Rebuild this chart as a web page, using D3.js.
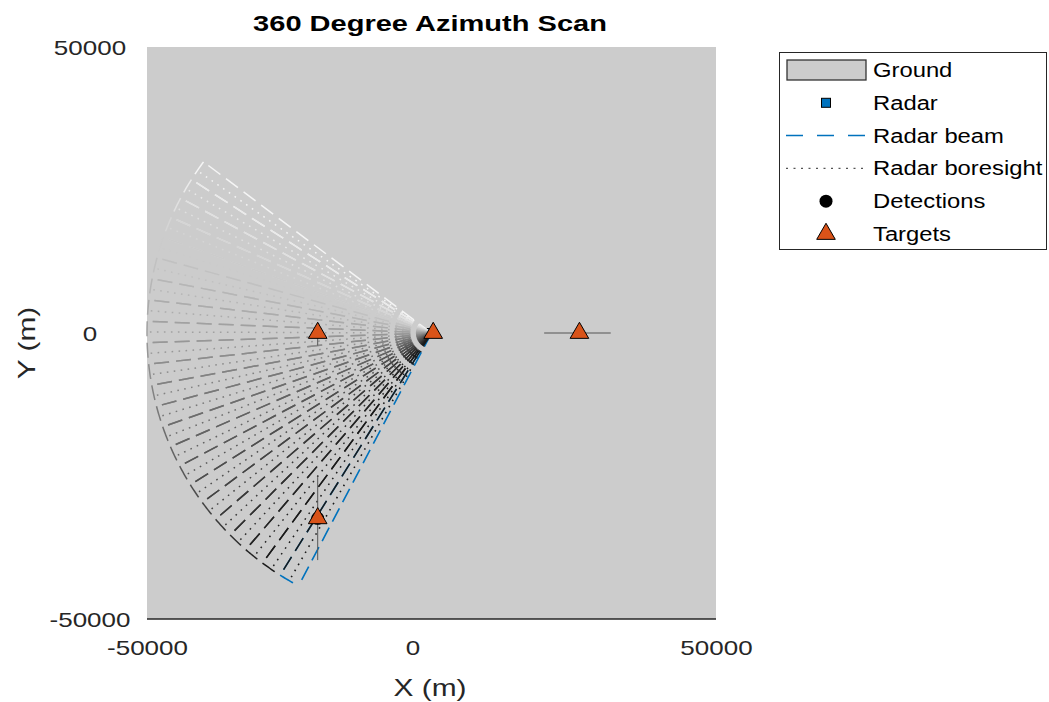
<!DOCTYPE html>
<html><head><meta charset="utf-8">
<script src="https://cdn.jsdelivr.net/npm/d3@7"></script>
<style>body{margin:0;background:#fff} text{font-family:"Liberation Sans",Arial,Helvetica,sans-serif}</style>
</head><body><svg id="chart" width="1049" height="702"></svg>
<script>
// ---- data ----
const xTicks = [-50000, 0, 50000];
const yTicks = [-50000, 0, 50000];
const maxRange = 50000;
const beamWidth = 4.3;               // degrees
const historyAzimuths = [145.4, 149.7, 154.0, 158.3, 162.6, 166.9, 171.2, 175.5, 179.8, 184.1, 188.4, 192.7,
                         197.0, 201.3, 205.6, 209.9, 214.2, 218.5, 222.8, 227.1, 231.4, 235.7];
const beamAzimuth = 240.0;
const radarX = [0], radarY = [0];
const targetX = [-20000, 300, 26000, -20000];
const targetY = [0, 0, 0, -32400];
const detectionX = [-20000], detectionY = [-32400];
const trackStartX = [-20000, 19800, -20000], trackStartY = [1800, 0, -25200];
const trackEndX   = [-20000, 31500, -20000], trackEndY   = [-2200, 0, -39700];
const legendLabels = ["Ground", "Radar", "Radar beam", "Radar boresight", "Detections", "Targets"];

// ---- layout ----
const svg = d3.select("#chart");
const x = d3.scaleLinear().domain([-50000, 50000]).range([147, 716]);
const y = d3.scaleLinear().domain([-50000, 50000]).range([619, 47]);
const BLUE = "#0072BD", ORANGE = "#D95319";
const rad = a => a * Math.PI / 180;
const pt = (r, a) => [x(r * Math.cos(rad(a))), y(r * Math.sin(rad(a)))];
const line = d3.line();

// ground
svg.append("rect").attr("x", x(-50000)).attr("y", y(50000))
  .attr("width", x(50000) - x(-50000)).attr("height", y(-50000) - y(50000)).attr("fill", "#cccccc");

// radar marker (under the beams)
svg.selectAll(".radar").data(radarX).join("rect")
  .attr("x", (d, i) => x(d) - 4.5).attr("y", (d, i) => y(radarY[i]) - 4.5)
  .attr("width", 9).attr("height", 9).attr("fill", BLUE).attr("stroke", "#000");

function arcPoints(a0, a1) {
  const n = 12, pts = [];
  for (let i = 0; i <= n; i++) pts.push(pt(maxRange, a0 + (a1 - a0) * i / n));
  return pts;
}
const fan = svg.append("g").attr("fill", "none");
// current beam (drawn first; its shared edge is covered by the newest history beam)
const cb = fan.append("g").attr("stroke-width", 1.6);
cb.append("path").attr("d", line([pt(0, 0), pt(maxRange, beamAzimuth)])).attr("stroke", "#1a1a1a").attr("stroke-dasharray", "1.6,5.4");
[beamAzimuth - beamWidth / 2, beamAzimuth + beamWidth / 2].forEach(e =>
  cb.append("path").attr("d", line([pt(0, 0), pt(maxRange, e)])).attr("stroke", BLUE).attr("stroke-dasharray", "15,7"));
cb.append("path").attr("d", line(arcPoints(beamAzimuth - beamWidth / 2, beamAzimuth + beamWidth / 2)))
  .attr("stroke", BLUE).attr("stroke-dasharray", "15,7");

// beam history, fading with age
const age = d3.scaleLinear().domain([0, historyAzimuths.length]).range(["#ffffff", "#1a1a1a"]);
historyAzimuths.forEach((az, i) => {
  const c = age(i + 1);
  const g = fan.append("g").attr("stroke", c).attr("stroke-width", 1.5);
  g.append("path").attr("d", line([pt(0, 0), pt(maxRange, az)])).attr("stroke-dasharray", "1.6,5.4");
  [az - beamWidth / 2, az + beamWidth / 2].forEach(e =>
    g.append("path").attr("d", line([pt(0, 0), pt(maxRange, e)])).attr("stroke-dasharray", "15,7"));
  g.append("path").attr("d", line(arcPoints(az - beamWidth / 2, az + beamWidth / 2))).attr("stroke-dasharray", "15,7");
});

// target tracks
svg.selectAll(".track").data(trackStartX).join("line")
  .attr("x1", d => x(d)).attr("y1", (d, i) => y(trackStartY[i]))
  .attr("x2", (d, i) => x(trackEndX[i])).attr("y2", (d, i) => y(trackEndY[i]))
  .attr("stroke", "#555").attr("stroke-width", 1);

// detections
svg.selectAll(".det").data(detectionX).join("circle")
  .attr("cx", d => x(d)).attr("cy", (d, i) => y(detectionY[i])).attr("r", 6.5).attr("fill", "#000");

// targets
const tri = d3.symbol().type(d3.symbolTriangle).size(150);
svg.selectAll(".tgt").data(targetX).join("path")
  .attr("transform", (d, i) => `translate(${x(d)},${y(targetY[i])})`)
  .attr("d", tri).attr("fill", ORANGE).attr("stroke", "#000").attr("stroke-width", 1);

// axes
const fmt = d => String(d);
const xa = svg.append("g").attr("transform", `translate(0,${y(-50000)})`)
  .call(d3.axisBottom(x).tickValues(xTicks).tickSize(0).tickFormat(fmt));
const ya = svg.append("g").attr("transform", `translate(${x(-50000)},0)`)
  .call(d3.axisLeft(y).tickValues(yTicks).tickSize(0).tickFormat(fmt));
[xa, ya].forEach(a => {
  a.select(".domain").remove();
  a.selectAll("text").attr("font-size", 20).attr("fill", "#262626")
    .attr("font-family", "Liberation Sans, Arial, sans-serif");
});
xa.selectAll("text").attr("x", 0).attr("y", 0).attr("dy", "0.35em")
  .attr("transform", d => `translate(${d === 0 ? -19 : 0},29) scale(1.3,1)`);
ya.selectAll("text").attr("x", 0).attr("dy", "0.35em").attr("text-anchor", "middle")
  .attr("transform", `translate(${90 - x(-50000)},0) scale(1.3,1)`);
svg.append("line").attr("x1", x(-50000)).attr("x2", x(50000)).attr("y1", y(-50000)).attr("y2", y(-50000))
  .attr("stroke", "#262626").attr("stroke-width", 1.5);

// labels
svg.append("text").attr("transform", "translate(430,31) scale(1.32,1)").attr("text-anchor", "middle")
  .attr("font-size", 22).attr("font-weight", "bold").attr("fill", "#000").text("360 Degree Azimuth Scan");
svg.append("text").attr("transform", "translate(430,696) scale(1.3,1)").attr("text-anchor", "middle")
  .attr("font-size", 23).attr("fill", "#262626").text("X (m)");
svg.append("text").attr("transform", "translate(35,343) rotate(-90) scale(1.3,1)").attr("text-anchor", "middle")
  .attr("font-size", 23).attr("fill", "#262626").text("Y (m)");

// legend
const lg = svg.append("g");
lg.append("rect").attr("x", 779.5).attr("y", 52.5).attr("width", 267).attr("height", 197)
  .attr("fill", "#fff").attr("stroke", "#262626").attr("stroke-width", 1);
const rowY = i => 70 + i * 32.8;
lg.selectAll("text").data(legendLabels).join("text")
  .attr("transform", (d, i) => `translate(873,${rowY(i)}) scale(1.19,1)`).attr("dy", "0.35em")
  .attr("font-size", 20).attr("fill", "#000").text(d => d);
lg.append("rect").attr("x", 787).attr("y", rowY(0) - 10).attr("width", 79).attr("height", 20)
  .attr("fill", "#cccccc").attr("stroke", "#333").attr("stroke-width", 1.3);
lg.append("rect").attr("x", 826 - 4.5).attr("y", rowY(1) - 4.5).attr("width", 9).attr("height", 9)
  .attr("fill", BLUE).attr("stroke", "#000");
lg.append("line").attr("x1", 786).attr("x2", 868).attr("y1", rowY(2)).attr("y2", rowY(2))
  .attr("stroke", BLUE).attr("stroke-width", 1.5).attr("stroke-dasharray", "17,14");
lg.append("line").attr("x1", 786).attr("x2", 868).attr("y1", rowY(3)).attr("y2", rowY(3))
  .attr("stroke", "#555").attr("stroke-width", 1.2).attr("stroke-dasharray", "2,5.5");
lg.append("circle").attr("cx", 826).attr("cy", rowY(4)).attr("r", 6.5).attr("fill", "#000");
lg.append("path").attr("transform", `translate(826,${rowY(5)})`).attr("d", tri)
  .attr("fill", ORANGE).attr("stroke", "#000");
</script></body></html>
